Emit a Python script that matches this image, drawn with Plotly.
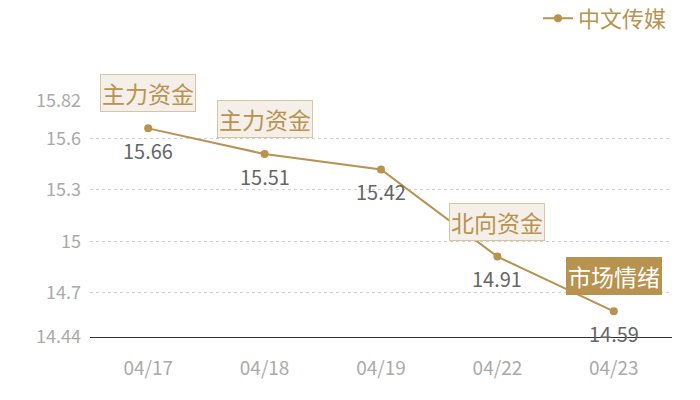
import plotly.graph_objects as go

dates = ["04/17", "04/18", "04/19", "04/22", "04/23"]
values = [15.66, 15.51, 15.42, 14.91, 14.59]
y_ticks = [14.44, 14.7, 15, 15.3, 15.6, 15.82]
tags = ["主力资金", "主力资金", None, "北向资金", "市场情绪"]
tag_filled = [False, False, False, False, True]
series_name = "中文传媒"

gold = "#b8924f"
font = "Noto Sans CJK SC, Noto Sans, sans-serif"

fig = go.Figure()
fig.add_trace(go.Scatter(
    x=dates, y=values, name=series_name, mode="lines+markers",
    line=dict(color=gold, width=2),
    marker=dict(color=gold, size=8),
    showlegend=True,
))

for d, v in zip(dates, values):
    fig.add_annotation(
        x=d, y=v, xref="x", yref="y", text=f"{v:.2f}", showarrow=False, yshift=-22,
        font=dict(size=20, color="#666666", family=font),
    )

for d, v, t, filled in zip(dates, values, tags, tag_filled):
    if t is None:
        continue
    fig.add_annotation(
        x=d, y=v, xref="x", yref="y", text=t, showarrow=False, yshift=35,
        font=dict(size=23, color="#ffffff" if filled else gold, family=font),
        bgcolor=gold if filled else "#f4efe8",
        bordercolor=gold if filled else "#d9c4a0",
        borderwidth=1, borderpad=1,
    )

fig.update_layout(
    width=700, height=400,
    margin=dict(l=82, r=36, t=93, b=71, autoexpand=False),
    paper_bgcolor="white", plot_bgcolor="white",
    font=dict(family=font),
    legend=dict(orientation="h", x=1.0, xanchor="right",
                y=1.35, yanchor="middle", bgcolor="rgba(0,0,0,0)",
                font=dict(size=22, color=gold, family=font), itemwidth=30),
    xaxis=dict(type="category", range=[-0.5, 4.5], showgrid=False, showline=True,
               linecolor="#333333", linewidth=1, ticks="",
               tickfont=dict(size=19, color="#aaaaaa"), ticklabelstandoff=14),
    yaxis=dict(range=[14.44, 15.82], tickvals=y_ticks, ticktext=[str(v) for v in y_ticks],
               showgrid=True, gridcolor="#d0d0d0", griddash="dot", gridwidth=1,
               zeroline=False, showline=False, ticks="",
               tickfont=dict(size=18, color="#aaaaaa"), ticklabelstandoff=8),
)

fig.write_html("out.html")
